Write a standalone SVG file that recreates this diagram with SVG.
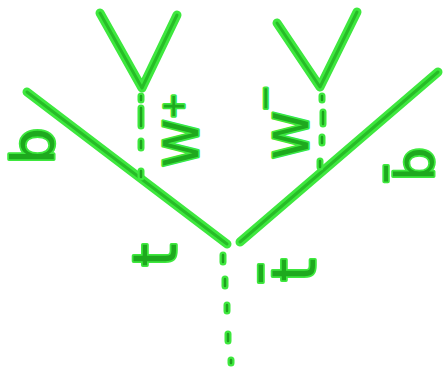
<svg xmlns="http://www.w3.org/2000/svg" width="447" height="377" viewBox="0 0 447 377">
<style>
.halo{fill:none;stroke:#3ee83e;stroke-width:9;stroke-linecap:round;stroke-linejoin:round}
.core{fill:none;stroke:#1ea91e;stroke-width:3;stroke-linecap:round;stroke-linejoin:round;opacity:.7}
.dh{fill:none;stroke:#3ee83e;stroke-width:7;stroke-linecap:round}
.dc{fill:none;stroke:#168f16;stroke-width:2.5;stroke-linecap:round;opacity:.8}
.lbl{font-family:"DejaVu Sans",sans-serif;font-weight:normal;fill:#1ea91e;stroke:#3ee83e;stroke-width:3.5;stroke-linejoin:round;paint-order:stroke}
</style>
<rect width="447" height="377" fill="#fff"/>
<g id="connectors">
  <path id="v-left" class="halo" d="M100,13 L142,88 L177,15"/>
  <path class="core" d="M100,13 L142,88 L177,15"/>
  <path id="v-right" class="halo" d="M277,23 L320,87 L357,12"/>
  <path class="core" d="M277,23 L320,87 L357,12"/>
  <path id="line-left" class="halo" d="M27,92 L227,244"/>
  <path class="core" d="M27,92 L227,244"/>
  <path id="line-right" class="halo" d="M438,72 L240,242"/>
  <path class="core" d="M438,72 L240,242"/>
  <path id="dots-left" class="dh" d="M141,96 L141,100 M141,108 L141,126 M141,141 L141,148 M141,171 L141,177"/>
  <path class="dc" d="M141,96 L141,100 M141,108 L141,126 M141,141 L141,148 M141,171 L141,177"/>
  <path id="dots-right" class="dh" d="M322,96 L322,100 M323,112 L323,124 M322,137 L322,143 M320,161 L320,167"/>
  <path class="dc" d="M322,96 L322,100 M323,112 L323,124 M322,137 L322,143 M320,161 L320,167"/>
  <path id="dots-bottom" class="dh" d="M223,255 L223,262 M225,279 L225,286 M227,305 L227,311 M228,334 L228,341 M231,360 L231,363"/>
  <path class="dc" d="M223,255 L223,262 M225,279 L225,286 M227,305 L227,311 M228,334 L228,341 M231,360 L231,363"/>
</g>
<g id="label-b">
  <text class="lbl" font-size="58" transform="translate(54,146) rotate(-90)" text-anchor="middle">b</text>
</g>
<g id="label-Wplus">
  <text class="lbl" font-size="48" transform="translate(198,167) rotate(-90)">W<tspan font-size="32" dy="-14">+</tspan></text>
</g>
<g id="label-Wminus">
  <text class="lbl" font-size="48" transform="translate(308,159) rotate(-90)">W<tspan font-size="32" dy="-32">−</tspan></text>
</g>
<g id="label-t">
  <text class="lbl" font-size="60" transform="translate(176,255) rotate(-90)" text-anchor="middle">t</text>
</g>
<g id="label-tbar">
  <text class="lbl" font-size="60" transform="translate(315,270) rotate(-90)" text-anchor="middle">t̄</text>
</g>
<g id="label-bbar">
  <text class="lbl" font-size="54" transform="translate(434,164) rotate(-90)" text-anchor="middle">b̄</text>
</g>
</svg>
